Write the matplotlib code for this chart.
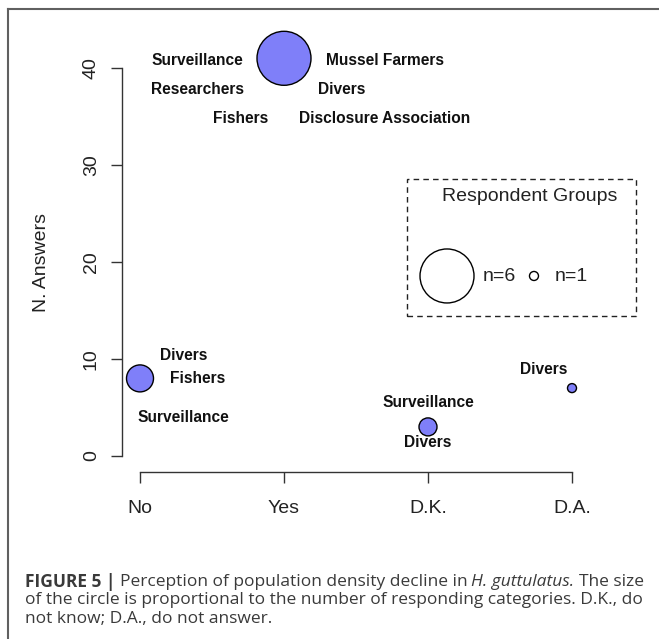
import matplotlib
matplotlib.use('Agg')
import matplotlib.pyplot as plt
from matplotlib.lines import Line2D
from matplotlib.patches import Rectangle

plt.rcParams['font.family'] = ['Liberation Sans', 'DejaVu Sans']

# data
categories = ['No', 'Yes', 'D.K.', 'D.A.']
n_answers = [8, 41, 3, 7]
n_groups = [3, 6, 2, 1]
y_ticks = [0, 10, 20, 30, 40]

# respondent group labels per answer: (text, x, y)
group_labels = [
    ('Divers', 1.3, 10.4), ('Fishers', 1.4, 8.0), ('Surveillance', 1.3, 4.0),
    ('Surveillance', 1.4, 40.8), ('Researchers', 1.4, 37.8), ('Fishers', 1.7, 34.8),
    ('Mussel Farmers', 2.7, 40.8), ('Divers', 2.4, 37.8),
    ('Disclosure Association', 2.7, 34.8),
    ('Surveillance', 3.0, 5.5), ('Divers', 3.0, 1.35),
    ('Divers', 3.8, 8.9),
]
legend_n = [6, 1]

FILL = '#7f7ff9'
W, H = 659, 639
# pixel calibration: x=1 at px 140, 144 px per category; y=0 at px 456, 9.7 px per answer
X0, XS = 140, 144
Y0, YS = 456, 9.7


def marker_size(n):
    # circle radius proportional to number of groups (4.5 px per group)
    return (2 * 4.5 * n * 0.72) ** 2


fig = plt.figure(figsize=(W / 100, H / 100), dpi=100)
ax = fig.add_axes([0, 0, 1, 1])
ax.patch.set_visible(False)
ax.set_xlim(1 + (0 - X0) / XS, 1 + (W - X0) / XS)
ax.set_ylim((Y0 - H) / YS, Y0 / YS)

x = list(range(1, len(categories) + 1))
ax.scatter(x, n_answers, s=[marker_size(n) for n in n_groups],
           facecolor=FILL, edgecolor='black', linewidth=1, zorder=3)

for txt, tx, ty in group_labels:
    ax.text(tx, ty, txt, ha='center', va='center', fontsize=11.2,
            fontweight='bold', color='#111111')

# R style axes
for side in ('top', 'right'):
    ax.spines[side].set_visible(False)
ax.spines['left'].set_position(('data', 1 + (122 - X0) / XS))
ax.spines['left'].set_bounds(0, 40)
ax.spines['bottom'].set_position(('data', (Y0 - 472) / YS))
ax.spines['bottom'].set_bounds(1, 4)
for side in ('left', 'bottom'):
    ax.spines[side].set_color('#333333')
    ax.spines[side].set_linewidth(1)

ax.set_xticks(x, labels=categories)
ax.set_yticks(y_ticks)
ax.tick_params(direction='out', length=8, width=1, color='#333333',
               labelsize=14, labelcolor='#222222')
ax.tick_params(axis='x', pad=12)
ax.tick_params(axis='y', pad=8)
for lbl in ax.get_yticklabels():
    lbl.set_rotation(90)
    lbl.set_va('center')

ax.set_ylabel('N. Answers', fontsize=14, color='#222222')
ax.yaxis.set_label_coords(50 / W, 1 - 263 / H)

# legend box
ax.add_patch(Rectangle((2.854, 14.43), 1.59, 14.13, fill=False,
                       linestyle=(0, (4, 3)), edgecolor='#222222',
                       linewidth=1, clip_on=False))
ax.text(3.708, 26.8, 'Respondent Groups', ha='center', va='center',
        fontsize=14, color='#222222')
ax.scatter([3.132, 3.736], [18.56, 18.56], s=[marker_size(n) for n in legend_n],
           facecolor='none', edgecolor='black', linewidth=1)
ax.text(3.382, 18.5, f'n={legend_n[0]}', ha='left', va='center', fontsize=14,
        color='#222222')
ax.text(3.882, 18.5, f'n={legend_n[1]}', ha='left', va='center', fontsize=14,
        color='#222222')

# frame of the figure panel
fig.add_artist(Line2D([8 / W, 1], [1 - 9 / H, 1 - 9 / H], transform=fig.transFigure,
                      color='#606060', linewidth=1.5))
fig.add_artist(Line2D([8 / W, 8 / W], [0, 1 - 9 / H], transform=fig.transFigure,
                      color='#606060', linewidth=1.5))

# caption
cap = dict(fontsize=12.5, color='#3a3a3a', family=['Open Sans', 'DejaVu Sans'],
           va='center')
t = fig.text(25 / W, 1 - 582 / H, 'FIGURE 5 |', fontweight='bold', **cap)
t = ax.annotate('Perception of population density decline in', xy=(1, 0.5),
                xycoords=t, xytext=(3, 0), textcoords='offset points', **cap)
t = ax.annotate('H. guttulatus.', xy=(1, 0.5), xycoords=t, xytext=(3, 0),
                textcoords='offset points', style='italic', **cap)
ax.annotate('The size', xy=(1, 0.5), xycoords=t, xytext=(3, 0),
            textcoords='offset points', **cap)
fig.text(25 / W, 1 - 600 / H,
         'of the circle is proportional to the number of responding categories. D.K., do',
         **cap)
fig.text(25 / W, 1 - 619 / H, 'not know; D.A., do not answer.', **cap)

fig.savefig('out.png', dpi=100)
